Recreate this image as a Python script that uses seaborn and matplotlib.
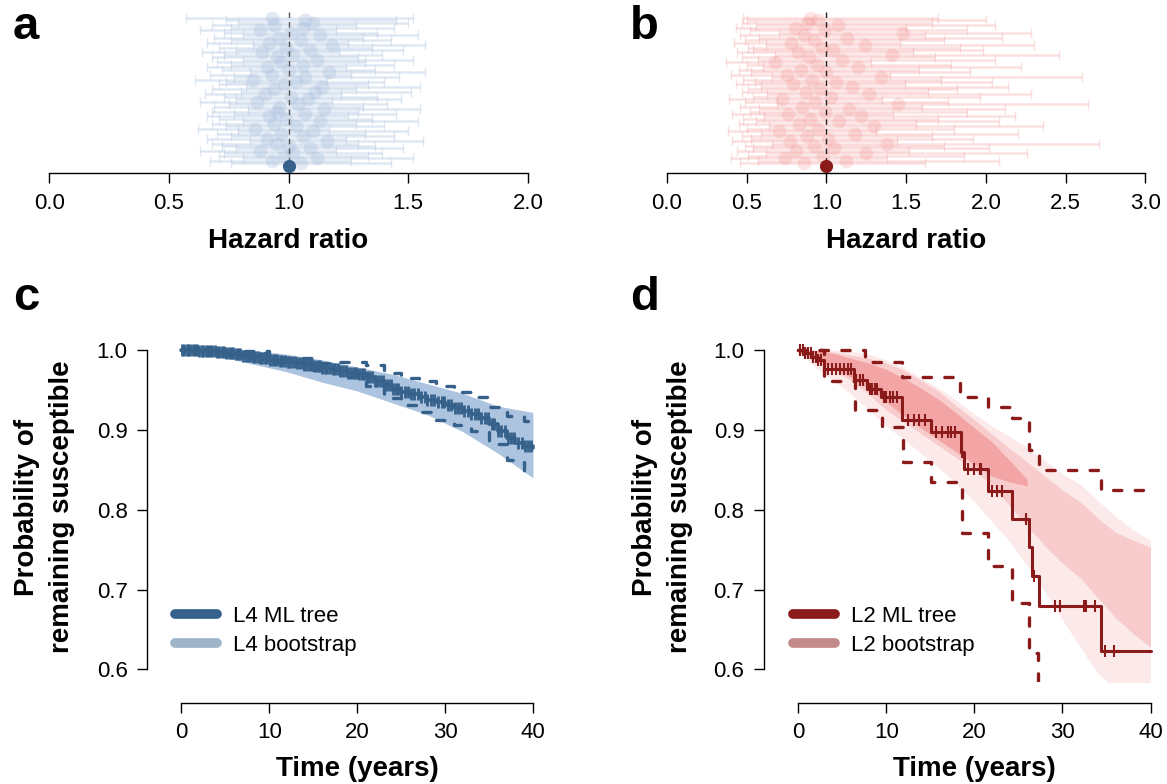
import numpy as np
import seaborn as sns
import matplotlib.pyplot as plt
from matplotlib.lines import Line2D

sns.set_theme(style="ticks", rc={"axes.edgecolor": "black", "xtick.color": "black",
                                 "ytick.color": "black", "text.color": "black",
                                 "axes.labelcolor": "black", "axes.linewidth": 1.0})
plt.rcParams["font.family"] = ["Liberation Sans", "DejaVu Sans"]

W, H = 1167, 784

# ---- panel a: L4 bootstrap hazard ratios (row 1 = bottom) ----
a_hr = [1.05, 0.93, 1.12, 0.98, 1.02, 0.88, 1.09, 1.00, 0.95, 1.16,
        0.91, 1.06, 0.97, 1.10, 0.86, 1.03, 0.94, 1.13, 0.99, 0.92,
        1.07, 0.95, 1.15, 0.96, 1.04, 0.87, 1.08, 1.01, 0.90, 1.11,
        0.94, 1.14, 0.98, 1.03, 0.85, 1.07, 0.93, 1.17, 1.00, 0.91,
        1.06, 0.97, 1.12, 0.95, 1.02, 0.89, 1.09, 0.99, 1.18, 0.92,
        1.05, 0.96, 1.13, 1.01, 0.88, 1.06, 0.94, 1.10, 1.07, 0.93]
a_lo = [0.76, 0.67, 0.81, 0.71, 0.73, 0.63, 0.78, 0.72, 0.68, 0.84,
        0.66, 0.76, 0.70, 0.79, 0.62, 0.74, 0.68, 0.81, 0.71, 0.66,
        0.77, 0.68, 0.83, 0.69, 0.75, 0.63, 0.78, 0.73, 0.65, 0.80,
        0.68, 0.82, 0.71, 0.74, 0.61, 0.77, 0.67, 0.84, 0.72, 0.66,
        0.76, 0.70, 0.81, 0.68, 0.73, 0.64, 0.78, 0.71, 0.85, 0.66,
        0.76, 0.69, 0.81, 0.73, 0.63, 0.76, 0.68, 0.79, 0.74, 0.57]
a_hi = [1.43, 1.26, 1.52, 1.33, 1.39, 1.20, 1.48, 1.36, 1.29, 1.56,
        1.24, 1.44, 1.32, 1.50, 1.17, 1.40, 1.28, 1.54, 1.35, 1.25,
        1.45, 1.29, 1.55, 1.31, 1.41, 1.18, 1.47, 1.37, 1.22, 1.51,
        1.28, 1.55, 1.33, 1.40, 1.16, 1.46, 1.26, 1.57, 1.36, 1.24,
        1.44, 1.32, 1.52, 1.29, 1.39, 1.21, 1.48, 1.35, 1.57, 1.25,
        1.43, 1.31, 1.54, 1.37, 1.20, 1.44, 1.28, 1.50, 1.45, 1.52]

# ---- panel b: L2 bootstrap hazard ratios ----
b_hr = [0.86, 1.12, 0.74, 0.98, 1.25, 0.81, 1.05, 0.92, 1.38, 0.77,
        1.01, 0.88, 1.18, 0.70, 0.95, 1.30, 0.83, 1.08, 0.90, 1.22,
        0.76, 0.99, 1.14, 0.85, 1.45, 0.93, 0.72, 1.03, 1.27, 0.87,
        0.96, 1.16, 0.79, 1.06, 0.91, 1.34, 0.75, 1.00, 0.84, 1.20,
        0.94, 0.68, 1.10, 0.89, 1.41, 0.82, 1.04, 0.97, 1.24, 0.78,
        0.92, 1.13, 0.86, 1.48, 0.99, 0.80, 1.07, 0.88, 0.95, 0.90]
b_lo = [0.46, 0.57, 0.40, 0.51, 0.62, 0.44, 0.54, 0.49, 0.66, 0.41,
        0.53, 0.47, 0.59, 0.38, 0.50, 0.64, 0.45, 0.56, 0.48, 0.61,
        0.41, 0.52, 0.58, 0.46, 0.69, 0.49, 0.39, 0.54, 0.63, 0.47,
        0.51, 0.59, 0.43, 0.55, 0.48, 0.66, 0.40, 0.53, 0.45, 0.60,
        0.50, 0.37, 0.57, 0.47, 0.68, 0.44, 0.54, 0.51, 0.62, 0.42,
        0.49, 0.58, 0.46, 0.70, 0.52, 0.43, 0.56, 0.47, 0.50, 0.48]
b_hi = [1.62, 2.08, 1.38, 1.86, 2.26, 1.52, 2.02, 1.74, 2.71, 1.44,
        1.92, 1.66, 2.20, 1.31, 1.80, 2.36, 1.56, 2.08, 1.70, 2.18,
        1.42, 1.88, 2.12, 1.60, 2.64, 1.76, 1.35, 1.96, 2.28, 1.64,
        1.82, 2.14, 1.49, 2.04, 1.72, 2.60, 1.40, 1.90, 1.58, 2.22,
        1.78, 1.28, 2.06, 1.68, 2.46, 1.54, 1.98, 1.84, 2.30, 1.46,
        1.74, 2.10, 1.62, 2.28, 1.88, 1.50, 2.06, 1.66, 2.00, 1.70]
ml_hr = 1.0

# ---- panel c: L4 survival ----
c_time = list(range(0, 41))
c_surv = [1.000, 1.000, 0.999, 0.999, 0.998, 0.997, 0.995, 0.993, 0.991, 0.990,
          0.988, 0.987, 0.985, 0.984, 0.982, 0.980, 0.978, 0.976, 0.974, 0.972,
          0.970, 0.966, 0.962, 0.957, 0.952, 0.948, 0.945, 0.941, 0.938, 0.935,
          0.931, 0.927, 0.924, 0.920, 0.915, 0.908, 0.899, 0.890, 0.884, 0.880,
          0.878]
c_censor = [0.1, 0.3, 0.6, 0.8, 1.0, 1.3, 1.5, 1.8, 2.0, 2.3, 2.5, 2.8, 3.0, 3.3,
            3.5, 3.8, 4.0, 4.3, 4.6, 4.8, 5.1, 5.4, 5.6, 5.9, 6.2, 6.5, 6.7, 7.0,
            7.3, 7.6, 7.8, 8.1, 8.4, 8.7, 9.0, 9.2, 9.5, 9.8, 10.1, 10.4, 10.6,
            10.9, 11.2, 11.5, 11.8, 12.1, 12.3, 12.6, 12.9, 13.2, 13.5, 13.8, 14.0,
            14.3, 14.6, 14.9, 15.2, 15.5, 15.8, 16.0, 16.3, 16.6, 16.9, 17.2, 17.5,
            17.8, 18.1, 18.4, 18.7, 19.0, 19.3, 19.6, 19.9, 20.2, 20.5, 20.8, 21.1,
            21.4, 21.7, 22.0, 22.3, 22.6, 22.9, 23.2, 23.5, 23.8, 24.1, 24.4, 24.7,
            25.0, 25.4, 25.8, 26.1, 26.5, 26.9, 27.3, 27.7, 28.0, 28.4, 28.8, 29.2,
            29.6, 29.9, 30.3, 30.7, 31.1, 31.5, 31.8, 32.2, 32.6, 33.0, 33.4, 33.7,
            34.1, 34.5, 34.9, 35.3, 35.6, 36.0, 36.4, 36.8, 37.2, 37.5, 37.9, 38.3,
            38.7, 39.1, 39.4, 39.8]
c_ci_time = [0, 5, 10, 15, 18, 21, 23, 25, 27, 29, 31, 33, 35, 37, 39, 40]
c_ci_upper = [1.0, 0.999, 0.990, 0.984, 0.985, 0.981, 0.972, 0.965, 0.961, 0.955,
              0.948, 0.942, 0.929, 0.917, 0.911, 0.910]
c_ci_lower = [1.0, 0.996, 0.985, 0.975, 0.966, 0.955, 0.940, 0.932, 0.922, 0.913,
              0.906, 0.899, 0.882, 0.862, 0.849, 0.847]
c_boot_time = [0, 4, 8, 12, 16, 20, 24, 28, 32, 36, 40]
c_boot_lo = [0.997, 0.993, 0.983, 0.973, 0.960, 0.949, 0.934, 0.919, 0.898, 0.871, 0.840]
c_boot_hi = [1.003, 1.003, 1.000, 0.995, 0.988, 0.979, 0.970, 0.958, 0.946, 0.930, 0.922]

# ---- panel d: L2 survival ----
d_time = [0, 0.8, 1.6, 2.2, 2.9, 6.3, 7.8, 9.4, 11.8, 15.1, 18.5, 18.8, 21.6,
          24.3, 26.2, 26.5, 27.3, 34.4, 40]
d_surv = [1.0, 0.996, 0.992, 0.988, 0.977, 0.963, 0.952, 0.942, 0.913, 0.897,
          0.873, 0.851, 0.823, 0.789, 0.753, 0.717, 0.680, 0.623, 0.623]
d_censor = [0.2, 0.5, 0.8, 1.1, 1.4, 1.7, 2.0, 2.3, 2.6, 3.4, 3.8, 4.3, 4.7, 5.2,
            5.6, 6.0, 6.6, 7.0, 7.4, 8.1, 8.4, 8.7, 9.0, 9.7, 10.0, 10.4, 10.8,
            11.2, 12.5, 13.1, 13.7, 14.4, 15.7, 16.3, 17.0, 17.4, 17.8, 18.6, 19.3,
            20.0, 20.6, 20.8, 22.0, 22.6, 23.1, 25.9, 26.8, 29.1, 29.7, 32.4, 32.7,
            33.7, 34.8, 35.8]
d_up_time = [0, 7.6, 11.8, 18.4, 21.6, 24.3, 26.2, 27.3, 34.4, 40]
d_up_surv = [1.0, 0.985, 0.966, 0.942, 0.929, 0.915, 0.875, 0.850, 0.825, 0.825]
d_low_time = [0, 2.9, 6.4, 9.5, 11.9, 15.1, 18.6, 21.6, 24.3, 26.2, 27.2, 40]
d_low_surv = [1.0, 0.961, 0.925, 0.904, 0.860, 0.835, 0.771, 0.730, 0.683, 0.620,
              0.550, 0.550]
d_boot_time = [0, 2, 4, 6, 8, 10, 12, 14, 16, 18, 20, 22, 24, 26, 28, 30, 32, 34,
               36, 38, 40]
d_out_hi = [1.0, 1.0, 1.0, 0.999, 0.995, 0.988, 0.978, 0.965, 0.952, 0.937, 0.920,
            0.905, 0.892, 0.878, 0.862, 0.845, 0.832, 0.812, 0.792, 0.775, 0.762]
d_out_lo = [1.0, 0.978, 0.962, 0.945, 0.925, 0.905, 0.888, 0.870, 0.852, 0.832,
            0.810, 0.785, 0.760, 0.730, 0.697, 0.662, 0.628, 0.595, 0.575, 0.560,
            0.550]
d_core_hi = [1.0, 1.0, 0.998, 0.994, 0.990, 0.984, 0.975, 0.962, 0.948, 0.930,
             0.913, 0.895, 0.877, 0.860, 0.842, 0.825, 0.810, 0.790, 0.772, 0.762,
             0.753]
d_core_lo = [0.997, 0.985, 0.975, 0.962, 0.945, 0.925, 0.910, 0.895, 0.880, 0.865,
             0.850, 0.830, 0.805, 0.780, 0.755, 0.733, 0.715, 0.690, 0.665, 0.645,
             0.628]
d_dense_time = [0, 2, 4, 6, 8, 10, 12, 14, 16, 18, 20, 22, 24, 26]
d_dense_hi = [1.0, 1.0, 0.996, 0.990, 0.984, 0.976, 0.965, 0.952, 0.938, 0.921,
              0.903, 0.885, 0.862, 0.838]
d_dense_lo = [0.997, 0.988, 0.978, 0.966, 0.952, 0.935, 0.918, 0.902, 0.887, 0.872,
              0.857, 0.842, 0.835, 0.830]

BLUE, BLUE_LIGHT, BLUE_BAND, BLUE_LEG = "#35618b", "#a3bbdb", "#adc4e0", "#9fb4c9"
RED, RED_LIGHT, RED_LEG = "#8b1a1a", "#f08080", "#c48b8b"


def fx(px):
    return px / W


def fy(py):
    return 1 - py / H


def place(fig, x0, y0, x1, y1):
    return fig.add_axes([fx(x0), fy(y1), (x1 - x0) / W, (y1 - y0) / H])


def hazard_panel(fig, box, hr, lo, hi, light, dark, vcol, xmax, alpha_pt, alpha_bar):
    ax = place(fig, *box)
    rows = np.arange(1, len(hr) + 1)
    ax.errorbar(hr, rows, xerr=[np.subtract(hr, lo), np.subtract(hi, hr)], fmt="none",
                ecolor=light, elinewidth=1.8, capsize=3.6, capthick=1.0, alpha=alpha_bar)
    sns.scatterplot(x=hr, y=rows, ax=ax, s=100, color=light, alpha=alpha_pt,
                    linewidth=0, legend=False)
    ax.axvline(ml_hr, color=vcol, lw=1.0, dashes=(4, 3))
    sns.scatterplot(x=[ml_hr], y=[0], ax=ax, s=90, color=dark, linewidth=0,
                    zorder=5, legend=False)
    ax.set_xlim(-0.04 * xmax, 1.04 * xmax)
    step = (165.7 - 18) / len(hr)
    ax.set_ylim(-(box[3] - 165.7) / step, (165.7 - box[1]) / step)
    ax.set_yticks([])
    ax.set_xticks(np.arange(0, xmax + 0.01, 0.5))
    ax.tick_params(axis="x", length=7.2, width=1.0, labelsize=16, pad=7)
    sns.despine(ax=ax, left=True, trim=True)
    ax.set_xlabel("Hazard ratio", fontsize=20, fontweight="bold", va="baseline")
    ax.xaxis.set_label_coords(fx((box[0] + box[2]) / 2), fy(248.5), transform=fig.transFigure)
    return ax


def step_value(times, surv, t):
    idx = np.searchsorted(times, t, side="right") - 1
    return np.asarray(surv)[idx]


def survival_panel(fig, box, ylab_x):
    ax = place(fig, *box)
    ax.set_xlim(-1.6, 41.6)
    ax.set_ylim(0.584, 1.016)
    ax.set_xticks([0, 10, 20, 30, 40])
    ax.set_yticks([0.6, 0.7, 0.8, 0.9, 1.0])
    ax.tick_params(length=7.2, width=1.0, labelsize=16, pad=7)
    sns.despine(ax=ax, offset={"left": 14.4, "bottom": 14.8}, trim=True)
    ax.set_xlabel("Time (years)", fontsize=20, fontweight="bold", va="baseline")
    ax.xaxis.set_label_coords(fx((box[0] + box[2]) / 2), fy(776), transform=fig.transFigure)
    ax.set_ylabel("Probability of\nremaining susceptible", fontsize=20,
                  fontweight="bold", linespacing=1.45)
    ax.yaxis.set_label_coords(fx(ylab_x), fy(507), transform=fig.transFigure)
    return ax


def add_legend(fig, ax, cols, labels, x):
    ax.legend([Line2D([], [], color=c, lw=7, solid_capstyle="round") for c in cols],
              labels, loc="center left", bbox_to_anchor=(fx(x), fy(631)),
              bbox_transform=fig.transFigure, frameon=False, fontsize=16,
              handlelength=1.88, handletextpad=0.75, labelspacing=0.35,
              borderpad=0, borderaxespad=0)


fig = plt.figure(figsize=(W / 100, H / 100), dpi=100)

# a
hazard_panel(fig, (30.2, 12, 547, 173.3), a_hr, a_lo, a_hi, BLUE_LIGHT, BLUE,
             "#555555", 2.0, 0.3, 0.33)
# b
hazard_panel(fig, (647.8, 12, 1164.5, 173.3), b_hr, b_lo, b_hi, RED_LIGHT, RED,
             "#222222", 3.0, 0.2, 0.24)

# c
ax = survival_panel(fig, (167.3, 337.5, 547, 682.1), 75)
ax.fill_between(c_boot_time, c_boot_lo, c_boot_hi, color=BLUE_BAND, lw=0, zorder=1)
for s in (c_ci_upper, c_ci_lower):
    ax.plot(c_ci_time, s, drawstyle="steps-post", color=BLUE, lw=2.4,
            dashes=(2.5, 4), dash_capstyle="round", zorder=3)
sns.lineplot(x=c_time, y=c_surv, ax=ax, drawstyle="steps-post", color=BLUE, lw=2.6,
             estimator=None, legend=False, zorder=4)
ax.plot(c_censor, step_value(c_time, c_surv, c_censor), ls="none", marker="|",
        ms=8.5, mew=2.0, color=BLUE, zorder=4)
add_legend(fig, ax, [BLUE, BLUE_LEG], ["L4 ML tree", "L4 bootstrap"], 175)

# d
ax = survival_panel(fig, (784.1, 337.5, 1164.6, 682.1), 75 + 617.8)
ax.fill_between(d_boot_time, d_out_lo, d_out_hi, color=RED_LIGHT, alpha=0.16, lw=0, zorder=1)
ax.fill_between(d_boot_time, d_core_lo, d_core_hi, color=RED_LIGHT, alpha=0.28, lw=0, zorder=1)
ax.fill_between(d_dense_time, d_dense_lo, d_dense_hi, color=RED_LIGHT, alpha=0.5, lw=0, zorder=1)
for t, s in ((d_up_time, d_up_surv), (d_low_time, d_low_surv)):
    ax.plot(t, s, drawstyle="steps-post", color=RED, lw=2.4,
            dashes=(2.5, 4), dash_capstyle="round", zorder=3)
sns.lineplot(x=d_time, y=d_surv, ax=ax, drawstyle="steps-post", color=RED, lw=2.2,
             estimator=None, legend=False, zorder=4)
ax.plot(d_censor, step_value(d_time, d_surv, d_censor), ls="none", marker="|",
        ms=8, mew=1.5, color=RED, zorder=4)
add_legend(fig, ax, [RED, RED_LEG], ["L2 ML tree", "L2 bootstrap"], 175 + 617.8)

# panel letters
for letter, x, y in (("a", 13, 39), ("b", 630, 39), ("c", 13, 310), ("d", 630, 310)):
    fig.text(fx(x), fy(y), letter, fontsize=34, fontweight="bold", va="baseline")

fig.savefig("out.png", dpi=100)
